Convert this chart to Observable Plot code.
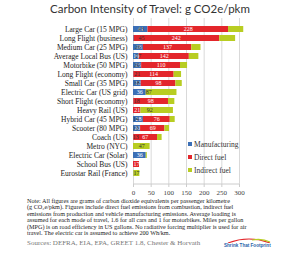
<!DOCTYPE html>
<html><head><meta charset="utf-8">
<script src="https://cdn.jsdelivr.net/npm/d3@7"></script>
<script src="https://cdn.jsdelivr.net/npm/@observablehq/plot@0.6"></script>
<style>
body{margin:0;background:#fff;}
#wrap{position:relative;width:300px;height:253px;overflow:hidden;background:#fff;}
#title{position:absolute;left:0;top:2px;width:300px;text-align:center;font-family:Lato,sans-serif;font-size:11.5px;color:#333;white-space:nowrap;}
#chart{position:absolute;left:0;top:16px;}
#legend{position:absolute;left:188px;top:140px;font-family:"Liberation Serif",serif;font-size:7.5px;color:#333;}
#legend div{height:13px;line-height:10px;white-space:nowrap;}
#legend span.sw{display:inline-block;width:4px;height:4px;margin-right:2px;vertical-align:1px;}
#note{position:absolute;left:27px;top:198px;font-family:"Liberation Serif",serif;font-size:6.2px;line-height:6.45px;color:#222;}
#note div{white-space:nowrap;}
#src{position:absolute;left:27px;top:239px;font-family:"Liberation Serif",serif;font-size:7px;color:#777;white-space:nowrap;}
#logo{position:absolute;left:224px;top:238px;font-family:"Liberation Sans",sans-serif;font-weight:bold;font-size:4.6px;color:#1f5fa8;white-space:nowrap;}
</style></head>
<body><div id="wrap">
<div id="title">Carbon Intensity of Travel: g CO2e/pkm</div>
<div id="chart"></div>
<div id="legend"></div>
<div id="note">
<div>Note:  All figures are grams of carbon dioxide equivalents per passenger kilometre</div>
<div>(g CO₂e/pkm).  Figures include direct fuel emissions from combustion, indirect fuel</div>
<div>emissions from production and vehicle manufacturing emissions.  Average loading is</div>
<div>assumed for each mode of travel, 1.6 for all cars and 1 for motorbikes.  Miles per gallon</div>
<div>(MPG) is on road efficiency in US gallons.  No radiative forcing multiplier is used for air</div>
<div>travel.  The electric car is assumed to achieve 200 Wh/km.</div>
</div>
<div id="src">Sources:  DEFRA, EIA, EPA, GREET 1.8, Chester &amp; Horvath</div>
<div id="logo"><svg width="50" height="5" style="display:block"><path d="M4,5 Q25,-3 46,5" fill="none" stroke="#e3262b" stroke-width="1.2"/><path d="M28,2 Q38,0 46,4" fill="none" stroke="#b8cd22" stroke-width="1.2"/></svg>Shrink That Footprint</div>
</div>
<script>
const categories = ["Large Car (15 MPG)","Long Flight (business)","Medium Car (25 MPG)","Average Local Bus (US)","Motorbike (50 MPG)","Long Flight (economy)","Small Car (35 MPG)","Electric Car (US grid)","Short Flight (economy)","Heavy Rail (US)","Hybrid Car (45 MPG)","Scooter (80 MPG)","Coach (US)","Metro (NYC)","Electric Car (Solar)","School Bus (US)","Eurostar Rail (France)"];
const manufacturing = [41, 2, 28, 16, 23, 1, 22, 36, 1, 0, 28, 20, 1, 0, 36, 0, 1];
const directFuel    = [228, 242, 137, 142, 110, 114, 98, 0, 98, 21, 76, 69, 67, 0, 0, 17, 0];
const indirectFuel  = [43, 45, 26, 27, 20, 21, 18, 87, 18, 92, 14, 13, 13, 47, 3, 0, 17];
const seriesNames = ["Manufacturing","Direct fuel","Indirect fuel"];
const seriesColors = ["#3b6fb6","#e3262b","#b8cd22"];
const xTicks = [0, 50, 100, 150, 200, 250, 300];

const seriesValues = [manufacturing, directFuel, indirectFuel];
const data = [];
categories.forEach((c, i) => seriesNames.forEach((s, j) => data.push({mode: c, series: s, value: seriesValues[j][i]})));

const labelOpts = (filterFn) => Plot.stackX({
  x: "value", y: "mode", z: "series", order: seriesNames,
  text: d => String(d.value),
  filter: d => d.value >= 10 && filterFn(d)
});

const chart = Plot.plot({
  width: 300, height: 182,
  marginLeft: 133, marginRight: 61, marginTop: 2, marginBottom: 14,
  style: {fontFamily: "'Liberation Serif', serif", fontSize: "7.5px", color: "#333", background: "transparent"},
  x: {domain: [0, 300], ticks: xTicks, label: null},
  y: {domain: categories, paddingInner: 0.28, paddingOuter: 0.14, label: null},
  color: {domain: seriesNames, range: seriesColors},
  marks: [
    Plot.gridX(xTicks, {stroke: "#d9d9d9", strokeOpacity: 1}),
    Plot.barX(data, Plot.stackX({x: "value", y: "mode", fill: "series", order: seriesNames})),
    Plot.text(data, {...labelOpts(d => d.series !== "Indirect fuel"), fill: "#fff", fontSize: 6}),
    Plot.text(data, {...labelOpts(d => d.series === "Indirect fuel"), fill: "#333", fontSize: 6}),
    Plot.axisY({tickSize: 0, tickPadding: 6, fontSize: 7.5, fill: "#222"}),
    Plot.axisX({ticks: xTicks, tickSize: 3, tickPadding: 3, fontSize: 7, stroke: "#ccc", fill: "#444", label: null})
  ]
});
document.getElementById("chart").appendChild(chart);

// axis baseline along the bottom of the plot frame
const xs = chart.scale("x");
d3.select(chart).append("line")
  .attr("x1", xs.apply(0)).attr("x2", xs.apply(300))
  .attr("y1", 168).attr("y2", 168).attr("stroke", "#ccc");

const leg = d3.select("#legend");
seriesNames.forEach((s, i) => {
  const row = leg.append("div");
  row.append("span").attr("class", "sw").style("background", seriesColors[i]);
  row.append("span").text(s);
});
</script>
</body></html>
